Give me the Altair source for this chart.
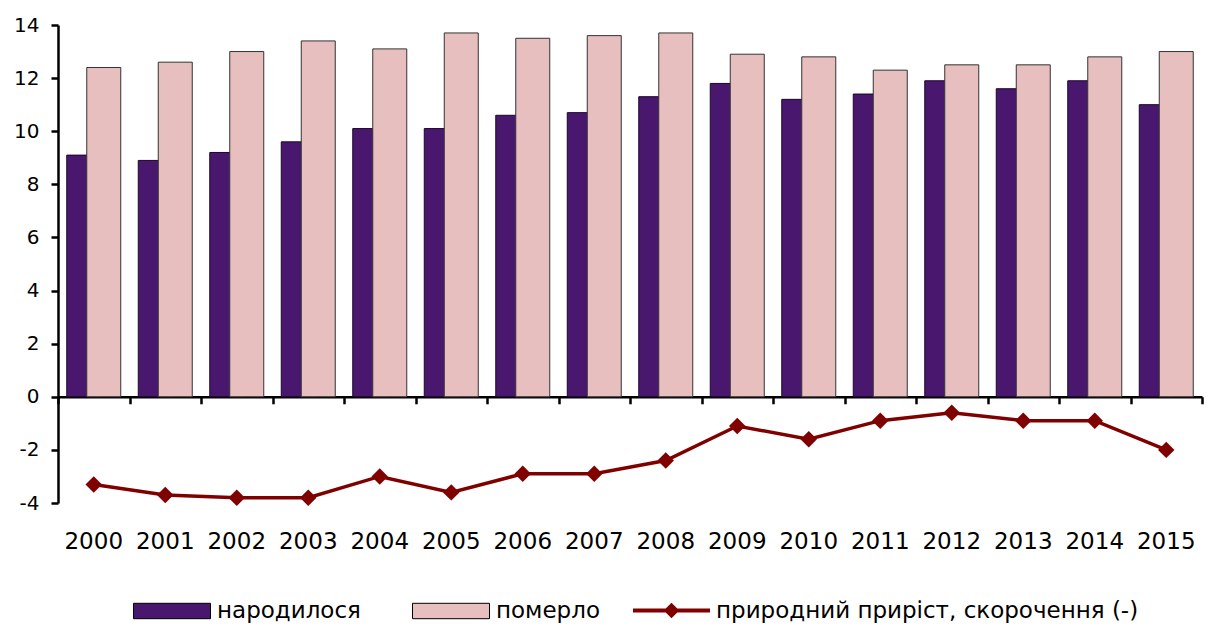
import altair as alt
import pandas as pd

years = [str(y) for y in range(2000, 2016)]
born = [9.1, 8.9, 9.2, 9.6, 10.1, 10.1, 10.6, 10.7, 11.3, 11.8, 11.2, 11.4, 11.9, 11.6, 11.9, 11.0]
died = [12.4, 12.6, 13.0, 13.4, 13.1, 13.7, 13.5, 13.6, 13.7, 12.9, 12.8, 12.3, 12.5, 12.5, 12.8, 13.0]
natural = [-3.3, -3.7, -3.8, -3.8, -3.0, -3.6, -2.9, -2.9, -2.4, -1.1, -1.6, -0.9, -0.6, -0.9, -0.9, -2.0]
y_ticks = [-4, -2, 0, 2, 4, 6, 8, 10, 12, 14]

S_BORN = "народилося"
S_DIED = "померло"
S_NAT = "природний приріст, скорочення (-)"

PURPLE = "#4A176E"
PINK = "#E8BFBF"
RED = "#800000"
FONT = "DejaVu Sans"

W, H = 1144, 478
Y_MIN, Y_MAX = -4, 14
ZERO_OFFSET = -(H * (0 - Y_MIN) / (Y_MAX - Y_MIN))

df = pd.DataFrame({
    "year": years,
    "born": born,
    "died": died,
    "nat": natural,
    "s_born": [S_BORN] * len(years),
    "s_died": [S_DIED] * len(years),
    "s_nat": [S_NAT] * len(years),
})

xscale = alt.Scale(paddingInner=0, paddingOuter=0)
yscale = alt.Scale(domain=[Y_MIN, Y_MAX], nice=False, zero=False)
yaxis = alt.Axis(
    values=y_ticks, title=None, grid=False,
    domainColor="black", domainWidth=2.5,
    tickColor="black", tickWidth=2.5, tickSize=7,
    labelFontSize=20, labelColor="black", labelFont=FONT, labelPadding=12,
    labelExpr="'' + datum.value",
)

label_axis = alt.Axis(
    orient="bottom", title=None, domain=False, ticks=False, tickSize=0,
    labelFontSize=23, labelColor="black", labelFont=FONT, labelPadding=27,
    labelAngle=0, grid=False,
)
zero_axis = alt.Axis(
    orient="bottom", title=None, labels=False, offset=ZERO_OFFSET,
    domainColor="black", domainWidth=2.5, tickColor="black", tickWidth=2.5,
    tickSize=7, tickBand="extent", grid=False,
)

BAR_PATH = "M-1,-0.2H1V0.2H-1Z"
LINE_PATH = "M-1,-0.05H-0.15L0,-0.2L0.15,-0.05H1V0.05H0.15L0,0.2L-0.15,0.05H-1Z"

def legend(x, path, stroke_w):
    return alt.Legend(
        title=None, orient="none", legendX=x, legendY=547,
        symbolType=path, symbolSize=77 * 77, symbolStrokeColor="black",
        symbolStrokeWidth=stroke_w, symbolOpacity=1,
        labelFontSize=23, labelColor="black", labelFont=FONT, labelOffset=6,
        labelLimit=0, padding=0,
    )

base = alt.Chart(df)

born_bars = base.mark_bar(width=34, xOffset=-10, stroke="#1a0828", strokeWidth=1).encode(
    x=alt.X("year:O", scale=xscale, axis=label_axis),
    y=alt.Y("born:Q", scale=yscale, axis=yaxis),
    color=alt.Color("s_born:N", scale=alt.Scale(domain=[S_BORN], range=[PURPLE]),
                    legend=legend(75, BAR_PATH, 1)),
)

died_bars = base.mark_bar(width=34, xOffset=10, stroke="#333333", strokeWidth=1).encode(
    x=alt.X("year:O", scale=xscale, axis=zero_axis),
    y=alt.Y("died:Q", scale=yscale, axis=yaxis),
    color=alt.Color("s_died:N", scale=alt.Scale(domain=[S_DIED], range=[PINK]),
                    legend=legend(354, BAR_PATH, 1)),
)

line = base.mark_line(color=RED, strokeWidth=3.5).encode(
    x=alt.X("year:O", scale=xscale, axis=None),
    y=alt.Y("nat:Q", scale=yscale, axis=yaxis),
)

points = base.mark_point(shape="diamond", filled=True, size=270, opacity=1).encode(
    x=alt.X("year:O", scale=xscale, axis=None),
    y=alt.Y("nat:Q", scale=yscale, axis=yaxis),
    color=alt.Color("s_nat:N", scale=alt.Scale(domain=[S_NAT], range=[RED]),
                    legend=legend(575, LINE_PATH, 0)),
)

chart = alt.layer(born_bars, died_bars, line, points).resolve_scale(
    color="independent"
).resolve_axis(
    x="independent"
).properties(
    width=W, height=H,
    padding={"left": 50, "top": 17, "right": 2, "bottom": 120},
    autosize=alt.AutoSizeParams(type="none"),
).configure_view(stroke=None).configure_axis(grid=False)

chart.save("out.html", embed_options={"renderer": "svg", "actions": False})
